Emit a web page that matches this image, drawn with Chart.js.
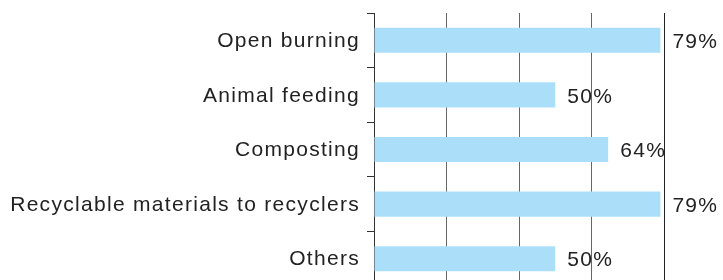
<!DOCTYPE html>
<html>
<head>
<meta charset="utf-8">
<script src="https://cdn.jsdelivr.net/npm/chart.js@4/dist/chart.umd.min.js"></script>
<style>
  html, body { margin: 0; padding: 0; background: #fff; }
  #wrap { width: 723px; height: 280px; overflow: hidden; }
  #box { width: 723px; height: 287px; }
</style>
</head>
<body>
<div id="wrap"><div id="box"><canvas id="chart"></canvas></div></div>
<script>
// data
const categories = ['Open burning', 'Animal feeding', 'Composting', 'Recyclable materials to recyclers', 'Others'];
const shares = [79, 50, 64.6, 79, 50];
const shareLabels = ['79%', '50%', '64%', '79%', '50%'];
const xTicks = [0, 20, 40, 60, 80];

const FONT = '"Liberation Sans", Arial, Helvetica, sans-serif';
const SPACING = '1.3px';

// letter spacing like the print original (canvas state gets reset on resize)
const spacingPlugin = {
  id: 'spacing',
  beforeLayout(chart) { chart.ctx.letterSpacing = SPACING; },
  beforeDraw(chart) { chart.ctx.letterSpacing = SPACING; }
};

// value text at the end of each bar
const valuePlugin = {
  id: 'values',
  afterDatasetsDraw(chart) {
    const ctx = chart.ctx;
    const meta = chart.getDatasetMeta(0);
    ctx.save();
    ctx.letterSpacing = SPACING;
    ctx.font = '21px ' + FONT;
    ctx.fillStyle = '#222';
    ctx.textAlign = 'left';
    ctx.textBaseline = 'middle';
    meta.data.forEach((bar, i) => {
      ctx.fillText(shareLabels[i], bar.x + 12, bar.y + 2);
    });
    ctx.restore();
  }
};

new Chart(document.getElementById('chart'), {
  type: 'bar',
  data: {
    labels: categories,
    datasets: [{
      data: shares,
      backgroundColor: '#abdff9',
      borderWidth: 0,
      barPercentage: 0.46,
      categoryPercentage: 1
    }]
  },
  options: {
    indexAxis: 'y',
    responsive: true,
    maintainAspectRatio: false,
    animation: false,
    layout: { padding: { top: 13, right: 59, bottom: 1, left: 0 } },
    plugins: { legend: { display: false }, tooltip: { enabled: false } },
    scales: {
      x: {
        min: xTicks[0],
        max: xTicks[xTicks.length - 1],
        afterBuildTicks: scale => { scale.ticks = xTicks.map(v => ({ value: v })); },
        afterFit: scale => { scale.height = 0; scale.paddingLeft = 0; scale.paddingRight = 0; },
        ticks: { display: false },
        border: { display: false },
        grid: {
          drawTicks: false,
          lineWidth: 1,
          color: c => (c.tick && c.tick.value === 80 ? '#222' : '#666')
        }
      },
      y: {
        afterFit: scale => { scale.width = 374; scale.paddingTop = 0; scale.paddingBottom = 0; },
        border: { color: '#333', width: 1 },
        grid: { drawOnChartArea: false, tickLength: 7, color: '#333', offset: true },
        ticks: { color: '#222', padding: 7, labelOffset: 1, font: { size: 21, family: FONT } }
      }
    }
  },
  plugins: [spacingPlugin, valuePlugin]
});
</script>
</body>
</html>
